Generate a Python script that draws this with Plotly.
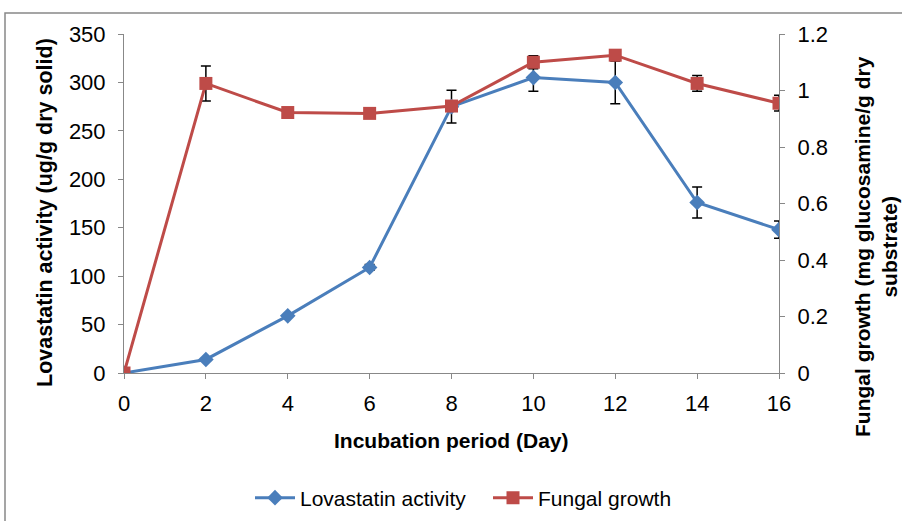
import plotly.graph_objects as go

days = [0, 2, 4, 6, 8, 10, 12, 14, 16]
lovastatin = [0, 14, 59, 109, 275, 305, 300, 176, 148]
lovastatin_err = [0, 0, 0, 3, 17, 14, 22, 16, 9]
fungal = [0, 1.025, 0.922, 0.919, 0.945, 1.10, 1.125, 1.025, 0.955]
fungal_err = [0, 0.062, 0, 0, 0, 0.023, 0, 0.028, 0.028]

x_ticks = [0, 2, 4, 6, 8, 10, 12, 14, 16]
y1_ticks = [0, 50, 100, 150, 200, 250, 300, 350]
y2_ticks = [0, 0.2, 0.4, 0.6, 0.8, 1, 1.2]

x_title = "<b>Incubation period (Day)</b>"
y1_title = "<b>Lovastatin activity (ug/g dry solid)</b>"
y2_title = "<b>Fungal growth (mg glucosamine/g dry<br>substrate)</b>"

BLUE = "#4A7EBB"
RED = "#BE4B48"
AXIS = "#888888"
FONT = "Liberation Sans, Arial, sans-serif"

fig = go.Figure()
fig.add_trace(go.Scatter(
    x=days, y=lovastatin, name="Lovastatin activity", mode="lines+markers",
    line=dict(color=BLUE, width=3),
    marker=dict(symbol="diamond", size=12, color=BLUE),
    error_y=dict(type="data", array=lovastatin_err, color="black", thickness=1.5, width=5),
))
fig.add_trace(go.Scatter(
    x=days, y=fungal, name="Fungal growth", mode="lines+markers", yaxis="y2",
    line=dict(color=RED, width=3),
    marker=dict(symbol="square", size=13, color=RED),
    error_y=dict(type="data", array=fungal_err, color="black", thickness=1.5, width=5),
))

L, R, T, B = 124, 123, 34, 148
W, H = 902, 521
pw, ph = W - L - R, H - T - B

def px_to_paper_x(p):
    return (p - L) / pw

def px_to_paper_y(p):
    return (H - B - p) / ph

axis_common = dict(showgrid=False, zeroline=False, showline=True, linecolor=AXIS,
                   linewidth=1, ticks="outside", ticklen=5, tickcolor=AXIS,
                   tickfont=dict(size=22))

fig.update_layout(
    width=W, height=H,
    margin=dict(l=L, r=R, t=T, b=B, autoexpand=False),
    paper_bgcolor="white", plot_bgcolor="white",
    font=dict(family=FONT, size=21, color="black"),
    showlegend=True,
    legend=dict(orientation="h", x=px_to_paper_x(250), xanchor="left",
                y=px_to_paper_y(498), yanchor="middle",
                font=dict(size=21), traceorder="normal", itemwidth=40,
                entrywidth=183, entrywidthmode="pixels"),
    xaxis=dict(range=[0, 16], tickvals=x_ticks, ticklabelstandoff=6, **axis_common),
    yaxis=dict(range=[0, 350], tickvals=y1_ticks, ticklabelstandoff=8, **axis_common),
    yaxis2=dict(range=[0, 1.2], tickvals=y2_ticks, overlaying="y", side="right",
                ticklabelstandoff=8, **axis_common),
)

fig.add_annotation(text=x_title, xref="paper", yref="paper",
                   x=0.5, y=px_to_paper_y(440), showarrow=False,
                   xanchor="center", yanchor="middle", font=dict(size=21))
fig.add_annotation(text=y1_title, xref="paper", yref="paper",
                   x=px_to_paper_x(45), y=px_to_paper_y(213), showarrow=False,
                   textangle=-90, xanchor="center", yanchor="middle", font=dict(size=21.5))
fig.add_annotation(text=y2_title, xref="paper", yref="paper",
                   x=px_to_paper_x(876), y=px_to_paper_y(247), showarrow=False,
                   textangle=-90, xanchor="center", yanchor="middle", font=dict(size=21))

fig.add_shape(type="rect", xref="paper", yref="paper",
              x0=px_to_paper_x(5), x1=px_to_paper_x(W + 5),
              y0=px_to_paper_y(H + 5), y1=px_to_paper_y(13),
              line=dict(color=AXIS, width=1.5), layer="below")

fig.write_html("out.html", post_script="document.body.style.margin='0';",
               config={"displayModeBar": False})
